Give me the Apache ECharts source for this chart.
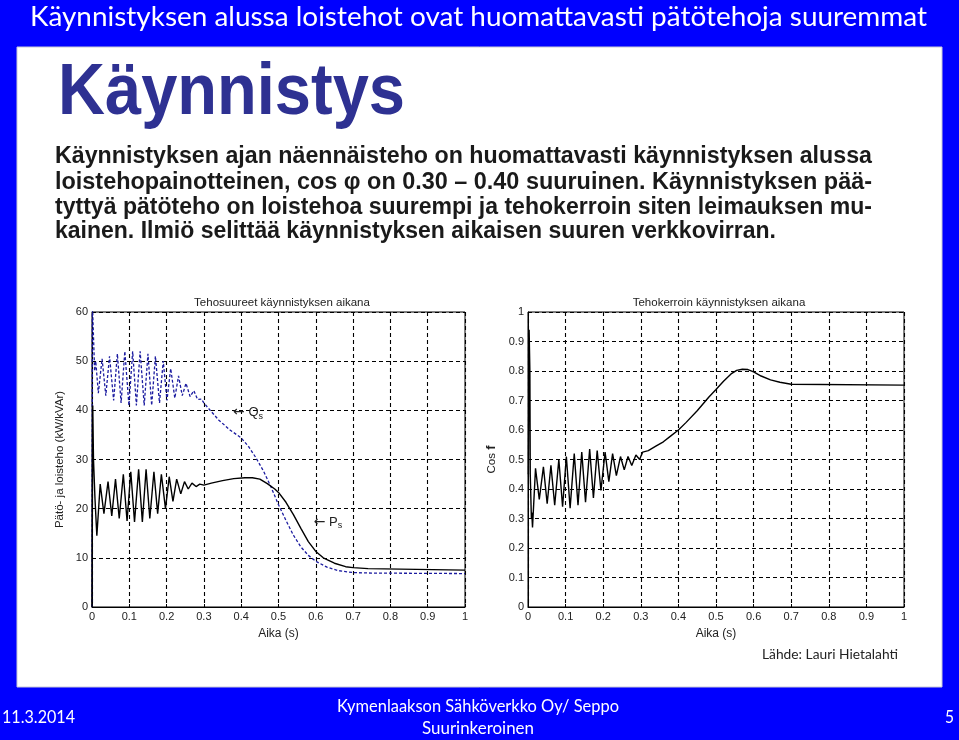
<!DOCTYPE html>
<html>
<head>
<meta charset="utf-8">
<script src="https://cdn.jsdelivr.net/npm/echarts@6/dist/echarts.min.js"></script>
<style>
html,body{margin:0;padding:0;background:#0000ff;}
#c{width:959px;height:740px;}
</style>
</head>
<body>
<div id="c"></div>
<script>
// ---------- DATA ----------
var slideTitle = 'Käynnistyksen alussa loistehot ovat huomattavasti pätötehoja suuremmat';
var heading = 'Käynnistys';
var bodyLines = [
  'Käynnistyksen ajan näennäisteho on huomattavasti käynnistyksen alussa',
  'loistehopainotteinen, cos φ on 0.30 – 0.40 suuruinen. Käynnistyksen pää-',
  'tyttyä pätöteho on loistehoa suurempi ja tehokerroin siten leimauksen mu-',
  'kainen. Ilmiö selittää käynnistyksen aikaisen suuren verkkovirran.'
];
var sourceText = 'Lähde: Lauri Hietalahti';
var footerDate = '11.3.2014';
var footerCenter = ['Kymenlaakson Sähköverkko Oy/ Seppo', 'Suurinkeroinen'];
var footerPage = '5';

var leftTitle = 'Tehosuureet käynnistyksen aikana';
var rightTitle = 'Tehokerroin käynnistyksen aikana';
var xName = 'Aika (s)';
var leftYName = 'Pätö- ja loisteho (kW/kVAr)';
var rightYName = 'Cos {b|f}';

// Active power P_s [time s, kW]
var pPoints = [[0,0],[0.002,41],[0.004,30],[0.008,22],[0.013,14.5],[0.022,25],[0.032,19],[0.043,25.5],[0.053,18.5],[0.063,26],[0.073,18],[0.084,27],[0.094,17.5],[0.104,27.5],[0.114,17.3],[0.125,28],[0.135,17.3],[0.145,28],[0.155,18],[0.166,27.5],[0.176,19],[0.186,27],[0.197,20],[0.207,26.5],[0.217,21.5],[0.227,26],[0.238,23],[0.248,25.5],[0.258,24],[0.268,25.2],[0.279,24.5],[0.289,25],[0.3,24.8],[0.32,25.2],[0.35,25.7],[0.38,26.1],[0.41,26.3],[0.43,26.3],[0.45,26.0],[0.47,25.1],[0.49,24.0],[0.5,23.3],[0.52,21.3],[0.54,18.8],[0.56,16.0],[0.58,13.3],[0.6,11.3],[0.62,10.0],[0.65,8.9],[0.68,8.2],[0.7,8.0],[0.74,7.8],[0.745,7.6],[1.0,7.5]];
// Reactive power Q_s [time s, kVAr]
var qPoints = [[0,0],[0.001,62],[0.005,62],[0.007,48],[0.01,50],[0.017,43.5],[0.027,50.5],[0.037,43],[0.047,51],[0.058,42],[0.068,51.5],[0.078,41.5],[0.088,52],[0.099,41],[0.109,52],[0.119,41],[0.129,52],[0.140,41],[0.150,51.5],[0.160,41],[0.170,51],[0.181,41.5],[0.191,50],[0.201,42],[0.211,48.5],[0.222,42.5],[0.232,47],[0.242,43],[0.252,45.5],[0.263,42.8],[0.273,44],[0.283,42.2],[0.293,42.3],[0.3,41.5],[0.31,40.6],[0.34,38.0],[0.37,36.0],[0.4,34.4],[0.42,32.6],[0.44,30.3],[0.46,27.6],[0.48,24.4],[0.5,20.8],[0.52,17.6],[0.54,14.6],[0.56,12.2],[0.58,10.5],[0.6,9.3],[0.63,8.1],[0.66,7.4],[0.7,7.0],[0.75,6.9],[1.0,6.8]];
// Power factor cos phi [time s, -]
var pfPoints = [[0.001,0.45],[0.003,0.94],[0.005,0.80],[0.006,0.45],[0.009,0.30],[0.010,0.32],[0.012,0.27],[0.020,0.47],[0.030,0.365],[0.041,0.475],[0.051,0.35],[0.061,0.48],[0.071,0.345],[0.082,0.50],[0.092,0.34],[0.102,0.51],[0.112,0.335],[0.123,0.52],[0.133,0.345],[0.143,0.525],[0.153,0.355],[0.164,0.535],[0.174,0.37],[0.184,0.53],[0.194,0.395],[0.205,0.525],[0.215,0.425],[0.225,0.52],[0.235,0.445],[0.246,0.51],[0.256,0.465],[0.266,0.51],[0.276,0.48],[0.287,0.515],[0.297,0.50],[0.3,0.51],[0.305,0.525],[0.31,0.52],[0.32,0.53],[0.34,0.545],[0.36,0.56],[0.38,0.58],[0.4,0.60],[0.42,0.625],[0.45,0.665],[0.48,0.71],[0.5,0.737],[0.52,0.765],[0.54,0.79],[0.555,0.802],[0.57,0.806],[0.585,0.805],[0.6,0.797],[0.62,0.783],[0.645,0.77],[0.67,0.762],[0.7,0.755],[0.701,0.752],[1.0,0.752]];
// Curve labels and where they point
var qLabelAt = [0.377, 39.5];
var pLabelAt = [0.593, 17.3];

// ---------- helpers ----------
var mctx = document.createElement('canvas').getContext('2d');
function fit(text, font, w) { mctx.font = font; var m = mctx.measureText(text).width; return m > 0 ? w / m : 1; }
function fitText(text, x, y, w, fontSize, family, weight, color) {
  var font = (weight || 'normal') + ' ' + fontSize + 'px ' + family;
  var s = fit(text, font, w);
  return { type: 'text', x: x, y: y, scaleX: s, silent: true,
    style: { text: text, font: font, fill: color, textAlign: 'left', textVerticalAlign: 'middle' } };
}
function tickFmt(v) { return String(Math.round(v * 10) / 10); }

var calib = "Lato, 'Open Sans', sans-serif";
var arial = "'Liberation Sans', Arial, sans-serif";

var graphics = [
  { type: 'rect', shape: { x: 17, y: 47, width: 925, height: 640 }, style: { fill: '#ffffff', stroke: '#c8c8d8', lineWidth: 1 }, silent: true, z: -10 },
  fitText(slideTitle, 30, 17, 897, 27, calib, 'normal', '#ffffff'),
  fitText(heading, 58, 94, 347, 72, arial, 'bold', '#2e3192'),
  fitText(bodyLines[0], 55, 157, 817, 23, arial, 'bold', '#1a1a1a'),
  fitText(bodyLines[1], 55, 183, 817, 23, arial, 'bold', '#1a1a1a'),
  fitText(bodyLines[2], 55, 208, 817, 23, arial, 'bold', '#1a1a1a'),
  fitText(bodyLines[3], 55, 232, 721, 23, arial, 'bold', '#1a1a1a'),
  fitText(sourceText, 762, 654, 136, 14, calib, 'normal', '#222222'),
  fitText(footerDate, 2, 718, 73, 17, calib, 'normal', '#ffffff'),
  fitText(footerCenter[0], 337, 707, 282, 17, calib, 'normal', '#ffffff'),
  fitText(footerCenter[1], 422, 729, 112, 17, calib, 'normal', '#ffffff'),
  fitText(footerPage, 945, 718, 9, 17, calib, 'normal', '#ffffff')
];

var axisTextStyle = { color: '#222', fontSize: 11, fontFamily: arial };
var gridLine = { color: '#000', type: [4, 3], width: 1.1 };
function xAx(gi) {
  return { type: 'value', gridIndex: gi, min: 0, max: 1, interval: 0.1,
    name: xName, nameLocation: 'middle', nameGap: 21, nameTextStyle: { color: '#222', fontSize: 12, fontFamily: arial },
    axisLine: { onZero: false, lineStyle: { color: '#000', width: 1 } },
    axisTick: { inside: true, length: 3, lineStyle: { color: '#000' } },
    axisLabel: Object.assign({ formatter: tickFmt, margin: 4 }, axisTextStyle),
    splitLine: { show: true, lineStyle: gridLine } };
}
function yAx(gi, max, interval, name, gap, fmt) {
  return { type: 'value', gridIndex: gi, min: 0, max: max, interval: interval,
    name: name, nameLocation: 'middle', nameGap: gap, nameRotate: 90,
    nameTextStyle: { color: '#222', fontSize: 11.5, fontFamily: arial, rich: { b: { fontWeight: 'bold', fontSize: 13, color: '#222', fontFamily: arial } } },
    axisLine: { onZero: false, lineStyle: { color: '#000', width: 1 } },
    axisTick: { inside: true, length: 3, lineStyle: { color: '#000' } },
    axisLabel: Object.assign({ formatter: fmt, margin: 4 }, axisTextStyle),
    splitLine: { show: true, lineStyle: gridLine } };
}

function curveLabel(coord, letter) {
  return { symbol: 'circle', symbolSize: 1, silent: true, itemStyle: { color: 'rgba(0,0,0,0)' },
    data: [{ coord: coord, value: letter }],
    label: { show: true, position: 'right', distance: 0,
      formatter: '{r|←}{a| ' + letter + '}{s|s}',
      rich: { r: { fontSize: 14, color: '#222', fontFamily: "'DejaVu Sans', sans-serif" },
              a: { fontSize: 13, color: '#222', fontFamily: arial },
              s: { fontSize: 9, color: '#222', fontFamily: arial, padding: [8, 0, 0, 0] } } } };
}

var chart = echarts.init(document.getElementById('c'), null, { renderer: 'canvas' });
chart.setOption({
  backgroundColor: '#0000ff',
  animation: false,
  title: [
    { text: leftTitle, left: 277, top: 292, textAlign: 'center', textStyle: { fontSize: 11.5, fontWeight: 'normal', color: '#222', fontFamily: arial } },
    { text: rightTitle, left: 714, top: 292, textAlign: 'center', textStyle: { fontSize: 11.5, fontWeight: 'normal', color: '#222', fontFamily: arial } }
  ],
  grid: [
    { left: 92, top: 312, width: 373, height: 295, show: true, borderColor: '#000', borderWidth: 1, backgroundColor: '#fff' },
    { left: 528, top: 312, width: 376, height: 295, show: true, borderColor: '#000', borderWidth: 1, backgroundColor: '#fff' }
  ],
  xAxis: [xAx(0), xAx(1)],
  yAxis: [
    yAx(0, 60, 10, leftYName, 26, function (v) { return String(v); }),
    yAx(1, 1, 0.1, rightYName, 30, tickFmt)
  ],
  series: [
    { type: 'line', name: 'Qs', xAxisIndex: 0, yAxisIndex: 0, data: qPoints, showSymbol: false, clip: true,
      lineStyle: { color: '#1c1ca0', width: 1.3, type: [3, 2] }, markPoint: curveLabel(qLabelAt, 'Q') },
    { type: 'line', name: 'Ps', xAxisIndex: 0, yAxisIndex: 0, data: pPoints, showSymbol: false, clip: true,
      lineStyle: { color: '#000', width: 1.4 }, markPoint: curveLabel(pLabelAt, 'P') },
    { type: 'line', name: 'cos φ', xAxisIndex: 1, yAxisIndex: 1, data: pfPoints, showSymbol: false, clip: true,
      lineStyle: { color: '#000', width: 1.4 } }
  ],
  graphic: graphics
});
</script>
</body>
</html>
